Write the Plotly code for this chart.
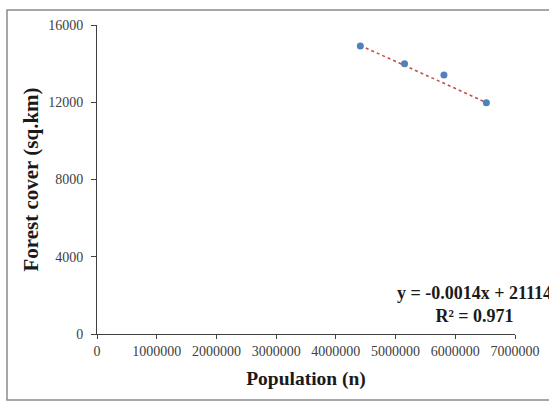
import plotly.graph_objects as go

population = [4410000, 5150000, 5810000, 6520000]
forest_cover = [14910, 14000, 13410, 11980]

trend_slope = -0.0014
trend_intercept = 21114
r_squared = 0.971

x_ticks = [0, 1000000, 2000000, 3000000, 4000000, 5000000, 6000000, 7000000]
y_ticks = [0, 4000, 8000, 12000, 16000]

x_title = "Population (n)"
y_title = "Forest cover (sq.km)"

W, H = 549, 403
L, R, T, B = 97, 34, 25, 69
pw, ph = W - L - R, H - T - B

fig = go.Figure()

tx = [min(population), max(population)]
ty = [trend_slope * v + trend_intercept for v in tx]
fig.add_trace(go.Scatter(
    x=tx, y=ty, mode="lines",
    line=dict(color="#C0504D", width=1.6, dash="dot"),
    showlegend=False, hoverinfo="skip"))

fig.add_trace(go.Scatter(
    x=population, y=forest_cover, mode="markers",
    marker=dict(color="#4F81BD", size=7),
    showlegend=False))

serif = "Liberation Serif, Times New Roman, serif"

fig.add_annotation(
    x=6330000, y=1530, xref="x", yref="y",
    text=f"y = {trend_slope}x + {trend_intercept}<br>R² = {r_squared}",
    showarrow=False, align="center",
    font=dict(family=serif, size=18, color="#1a1a1a", weight="bold"),
    xanchor="center", yanchor="middle")

# outer chart frame
fig.add_shape(type="rect", xref="paper", yref="paper",
              x0=(7 - L) / pw, x1=(570 - L) / pw,
              y0=(T + ph - 400) / ph, y1=(T + ph - 10) / ph,
              line=dict(color="#8a8a8a", width=1.5), layer="above")

fig.update_layout(
    width=W, height=H,
    margin=dict(l=L, r=R, t=T, b=B, pad=0, autoexpand=False),
    paper_bgcolor="white", plot_bgcolor="white",
    font=dict(family=serif, color="#404040", size=14),
    xaxis=dict(range=[0, 7000000], tickvals=x_ticks,
               ticktext=[str(v) for v in x_ticks],
               showgrid=False, zeroline=False, automargin=False,
               showline=True, linecolor="#404040", linewidth=1,
               ticks="outside", ticklen=4, tickcolor="#404040",
               tickfont=dict(family=serif, size=14, color="#404040"),
               title=dict(text=x_title, standoff=13,
                          font=dict(family=serif, size=19.5, color="#1a1a1a", weight="bold"))),
    yaxis=dict(range=[0, 16000], tickvals=y_ticks,
               ticktext=[str(v) for v in y_ticks],
               showgrid=False, zeroline=False, automargin=False,
               showline=True, linecolor="#404040", linewidth=1,
               ticks="outside", ticklen=5, tickcolor="#404040",
               ticklabelstandoff=5,
               tickfont=dict(family=serif, size=14, color="#404040"),
               title=dict(text=y_title, standoff=3,
                          font=dict(family=serif, size=21, color="#1a1a1a", weight="bold"))),
)

fig.write_html("out.html",
               config={"displayModeBar": False},
               post_script="document.body.style.margin='0';document.body.style.overflow='hidden';")
